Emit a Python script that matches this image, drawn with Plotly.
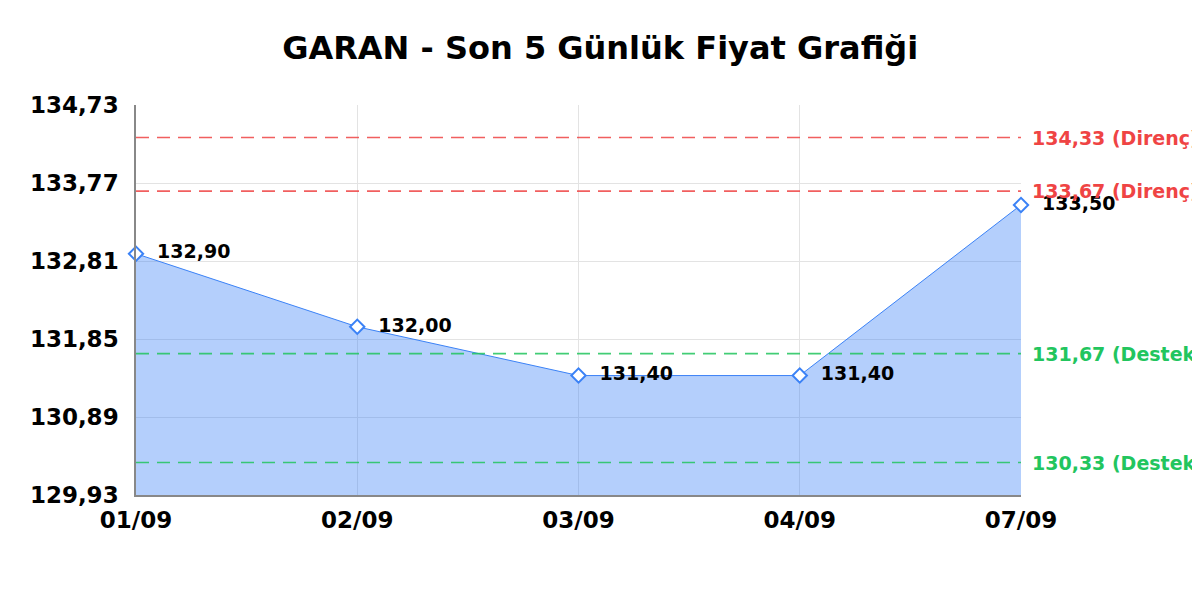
import plotly.graph_objects as go

# GARAN son 5 gün kapanış
dates = ["01/09", "02/09", "03/09", "04/09", "07/09"]
prices = [132.90, 132.00, 131.40, 131.40, 133.50]

resistance = [134.33, 133.67]
support = [131.67, 130.33]

y_ticks = [129.93, 130.89, 131.85, 132.81, 133.77, 134.73]


def tr(v):
    return f"{v:.2f}".replace(".", ",")


fig = go.Figure(go.Scatter(
    x=dates,
    y=prices,
    mode="lines+markers+text",
    line={"color": "#3b82f6", "width": 1},
    fill="tozeroy",
    fillcolor="rgba(59,130,246,0.38)",
    marker={"symbol": "diamond", "size": 11, "color": "white",
            "line": {"width": 2, "color": "#3b82f6"}},
    text=["  " + tr(p) for p in prices],
    textposition="middle right",
    textfont={"family": "DejaVu Sans", "size": 19, "color": "black", "weight": "bold"},
    cliponaxis=False,
    hoverinfo="skip",
))

for lvl in resistance:
    fig.add_shape(type="line", xref="paper", yref="y", x0=0, x1=1, y0=lvl, y1=lvl,
                  line={"color": "#ef4444", "width": 1.6, "dash": "13px,8px"}, opacity=0.85)
    fig.add_annotation(xref="paper", yref="y", x=1, y=lvl, xanchor="left", xshift=9,
                       text=tr(lvl) + " (Direnç)", showarrow=False,
                       font={"family": "DejaVu Sans", "size": 19, "color": "#ef4444", "weight": "bold"})

for lvl in support:
    fig.add_shape(type="line", xref="paper", yref="y", x0=0, x1=1, y0=lvl, y1=lvl,
                  line={"color": "#22c55e", "width": 1.6, "dash": "13px,8px"}, opacity=0.85)
    fig.add_annotation(xref="paper", yref="y", x=1, y=lvl, xanchor="left", xshift=9,
                       text=tr(lvl) + " (Destek)", showarrow=False,
                       font={"family": "DejaVu Sans", "size": 19, "color": "#22c55e", "weight": "bold"})

fig.update_layout(
    width=1200, height=600,
    margin={"l": 128, "r": 187, "t": 97, "b": 113},
    paper_bgcolor="white", plot_bgcolor="white",
    showlegend=False,
    title={"text": "GARAN - Son 5 Günlük Fiyat Grafiği", "x": 0.4935, "xanchor": "center",
           "xref": "container", "y": 0.933, "yanchor": "middle",
           "font": {"family": "DejaVu Sans", "size": 32, "color": "black", "weight": "bold"}},
    font={"family": "DejaVu Sans", "color": "black"},
)

fig.update_xaxes(
    type="category", range=[0, 4],
    showgrid=True, gridcolor="#e3e3e3", gridwidth=1,
    showline=True, linecolor="#888888", linewidth=1.5,
    ticks="outside", ticklen=4, tickcolor="rgba(0,0,0,0)",
    tickfont={"family": "DejaVu Sans", "size": 23, "color": "black", "weight": "bold"},
    zeroline=False, mirror=False,
)

fig.update_yaxes(
    range=[y_ticks[0], y_ticks[-1]],
    tickvals=y_ticks, ticktext=[tr(v) for v in y_ticks],
    showgrid=True, gridcolor="#e3e3e3", gridwidth=1,
    showline=True, linecolor="#888888", linewidth=1.5,
    ticks="outside", ticklen=11, tickcolor="rgba(0,0,0,0)",
    tickfont={"family": "DejaVu Sans", "size": 23, "color": "black", "weight": "bold"},
    zeroline=False,
)

fig.write_html("out.html")
